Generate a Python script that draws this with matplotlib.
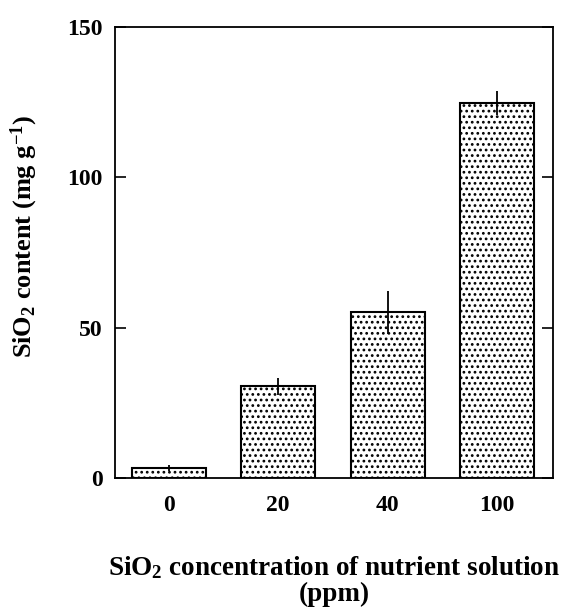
import numpy as np
import matplotlib
matplotlib.use('Agg')
import matplotlib.pyplot as plt

# SiO2 in nutrient solution (ppm) and SiO2 content in plant (mg g-1)
concentrations = ['0', '20', '40', '100']
sio2_content = [3.2, 30.5, 55.0, 124.7]
sio2_error = [1.0, 2.8, 7.2, 4.0]

plt.rcParams['font.family'] = ['Liberation Serif', 'DejaVu Serif']
plt.rcParams['font.weight'] = 'bold'
plt.rcParams['mathtext.fontset'] = 'custom'
plt.rcParams['mathtext.rm'] = 'Liberation Serif:bold'
plt.rcParams['mathtext.bf'] = 'Liberation Serif:bold'
plt.rcParams['mathtext.default'] = 'rm'
plt.rcParams['hatch.linewidth'] = 1.2


def main():
    fig = plt.figure(figsize=(5.7, 6.08), dpi=100)
    ax = fig.add_axes([0.202, 0.214, 0.768, 0.742])

    x = np.arange(len(concentrations))
    ax.bar(x, sio2_content, width=0.675, color='white', edgecolor='black',
           linewidth=1.5, hatch='...', zorder=2)
    ax.errorbar(x, sio2_content, yerr=sio2_error, fmt='none', ecolor='black',
                elinewidth=1.3, capsize=0, zorder=3)

    ax.set_xlim(-0.49, 3.51)
    ax.set_ylim(0, 150)
    ax.set_yticks([0, 50, 100, 150])
    ax.set_xticks(x)
    ax.set_xticklabels(concentrations)
    ax.tick_params(axis='y', direction='in', length=8, width=1.2, pad=9,
                   labelsize=17, left=True, right=True)
    ax.tick_params(axis='x', length=0, pad=12, labelsize=17)
    for s in ax.spines.values():
        s.set_linewidth(1.3)

    ax.set_ylabel(r'SiO$_2$ content (mg g$^{-1}$)', fontsize=19, fontweight='bold')
    ax.yaxis.set_label_coords(-0.172, 0.535)
    ax.set_xlabel('SiO$_2$ concentration of nutrient solution\n(ppm)',
                  fontsize=19.5, fontweight='bold', labelpad=28, linespacing=1.05)

    fig.savefig('out.png', dpi=100)


if __name__ == '__main__':
    main()
